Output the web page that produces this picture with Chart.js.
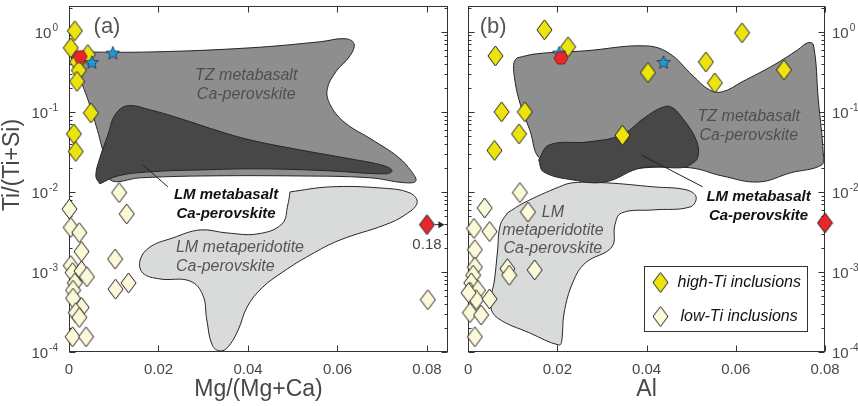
<!DOCTYPE html>
<html>
<head>
<meta charset="utf-8">
<title>Ti/(Ti+Si) of Ca-perovskite inclusions</title>
<script src="https://cdn.jsdelivr.net/npm/chart.js@4.4.1/dist/chart.umd.min.js"></script>
<style>
  html, body { margin: 0; padding: 0; background: #fff; }
  #page { position: relative; width: 858px; height: 406px; overflow: hidden; }
  #chartA { position: absolute; left: 0; top: 0; }
  #chartB { position: absolute; left: 455px; top: 0; }
</style>
</head>
<body>
<div id="page">
  <canvas id="chartA" width="455" height="406"></canvas>
  <canvas id="chartB" width="403" height="406"></canvas>
</div>
<script>
// ---- values ----
const xTicks = [0, 0.02, 0.04, 0.06, 0.08];
const yDecades = [-4, -3, -2, -1, 0];

// (a) Mg/(Mg+Ca)
const aHighX = [0.0013, 0.0004, 0.0042, 0.0018, 0.0022, 0.0018, 0.0049, 0.0011, 0.0015];
const aHighY = [1.03, 0.63, 0.52, 0.42, 0.33, 0.24, 0.097, 0.053, 0.032];
const aLowX = [0.0112, 0.0129, 0.0001, 0.0004, 0.0023, 0.0028, 0.0004, 0.0008, 0.0028, 0.0040, 0.0013,
               0.0103, 0.0133, 0.0104, 0.0009, 0.0009, 0.0028, 0.0015, 0.0023, 0.0008, 0.0038, 0.0802];
const aLowY = [0.0098, 0.0053, 0.0061, 0.0036, 0.0031, 0.0018, 0.0012, 0.00098, 0.00103, 0.00087, 0.00073,
               0.00145, 0.00073, 0.00061, 0.00059, 0.00047, 0.00036, 0.00031, 0.00027, 0.000155, 0.000155, 0.00045];
const aStarX = [0.0051, 0.0098];
const aStarY = [0.42, 0.55];
const aHexX = [0.0025];
const aHexY = [0.49];
const aRedX = [0.08];   // off-scale, true value 0.18
const aRedY = [0.0039];

// (a) fields
const aTzX = [0.0007, 0.0181, 0.0404, 0.0561, 0.0617, 0.0637, 0.0628, 0.0597, 0.0577, 0.0585, 0.0617, 0.0677, 0.0735,
              0.0766, 0.0775, 0.0751, 0.0673, 0.0516, 0.0293, 0.0159, 0.0092, 0.0078, 0.0058, 0.0034, 0.0007, 0.0007];
const aTzY = [0.56, 0.56, 0.63, 0.75, 0.82, 0.71, 0.50, 0.32, 0.19, 0.119, 0.073, 0.045, 0.0274,
              0.0178, 0.0137, 0.0130, 0.0150, 0.0158, 0.0158, 0.015, 0.0141, 0.029, 0.075, 0.19, 0.42, 0.56];
const aLmX = [0.0069, 0.0060, 0.0069, 0.0087, 0.0103, 0.0130, 0.0181, 0.0259, 0.0326, 0.0404, 0.0516,
              0.0628, 0.0706, 0.0722, 0.0706, 0.0583, 0.0427, 0.0293, 0.0181, 0.0109, 0.0069];
const aLmY = [0.0126, 0.0158, 0.0266, 0.0516, 0.0917, 0.119, 0.106, 0.079, 0.0596, 0.0447, 0.0335,
              0.0259, 0.0211, 0.0183, 0.0168, 0.0183, 0.0194, 0.0188, 0.0178, 0.0158, 0.0126];
const aPerX = [0.0494, 0.0583, 0.0695, 0.0762, 0.0778, 0.0751, 0.0706, 0.0606, 0.0539, 0.0478, 0.0431, 0.0398, 0.0378,
               0.0355, 0.0337, 0.0320, 0.0308, 0.0299, 0.0270, 0.0203, 0.0165, 0.0159, 0.0181, 0.0232, 0.0293,
               0.0353, 0.0422, 0.0476, 0.0489, 0.0494];
const aPerY = [0.0100, 0.01155, 0.0112, 0.0097, 0.0073, 0.00516, 0.00387, 0.00251, 0.00163, 0.0010, 0.00063, 0.000365, 0.000188,
               0.000115, 0.000103, 0.000122, 0.000251, 0.000516, 0.000772, 0.000818, 0.00097, 0.00141, 0.00205, 0.00266, 0.00335,
               0.00307, 0.00299, 0.00398, 0.00688, 0.0100];

// (b) Al
const bHighX = [0.0171, 0.0061, 0.0224, 0.0403, 0.0075, 0.0127, 0.0114, 0.0059, 0.0346, 0.0533, 0.0553, 0.0614, 0.0708];
const bHighY = [1.06, 0.50, 0.65, 0.31, 0.10, 0.10, 0.053, 0.033, 0.051, 0.42, 0.23, 0.97, 0.335];
const bLowX = [0.0116, 0.0037, 0.0134, 0.0013, 0.0048, 0.0015, 0.0015, 0.0088, 0.0092, 0.0149,
               0.0011, 0.0007, 0.0004, 0.0022, 0.0018, 0.0048, 0.0004, 0.0029, 0.0015, 0.0001];
const bLowY = [0.0098, 0.0063, 0.0056, 0.0035, 0.0032, 0.0019, 0.00115, 0.0011, 0.00091, 0.00106,
               0.00091, 0.00073, 0.00056, 0.00059, 0.00045, 0.00046, 0.00031, 0.00029, 0.000155, 0.00055];
const bStarX = [0.0204, 0.0438];
const bStarY = [0.55, 0.42];
const bHexX = [0.0208];
const bHexY = [0.47];
const bRedX = [0.08];
const bRedY = [0.0041];

// (b) fields
const bTzX = [0.0110, 0.0153, 0.0263, 0.0395, 0.0449, 0.0504, 0.0541, 0.0570, 0.0614, 0.0686, 0.0739, 0.0761, 0.0774, 0.0785,
              0.0796, 0.0793, 0.0723, 0.0651, 0.0570, 0.0498, 0.0395, 0.0263, 0.0164, 0.0138, 0.0114, 0.0103, 0.0103, 0.0110];
const bTzY = [0.473, 0.531, 0.579, 0.668, 0.546, 0.282, 0.188, 0.178, 0.237, 0.387, 0.596, 0.729, 0.688, 0.141,
              0.0307, 0.0218, 0.0173, 0.0133, 0.0158, 0.020, 0.020, 0.0163, 0.0251, 0.0596, 0.141, 0.29, 0.42, 0.473];
const bLmX = [0.0158, 0.0182, 0.0270, 0.0344, 0.0395, 0.0432, 0.0454, 0.0478, 0.0511, 0.0515,
              0.0498, 0.0476, 0.0416, 0.0379, 0.0307, 0.0235, 0.0169, 0.0158];
const bLmY = [0.0251, 0.0387, 0.0422, 0.0516, 0.0841, 0.112, 0.1155, 0.0866, 0.0447, 0.0274,
              0.0218, 0.020, 0.0205, 0.0194, 0.0133, 0.0141, 0.0178, 0.0251];
const bPerX = [0.0088, 0.0125, 0.0204, 0.0235, 0.0307, 0.0416, 0.0489, 0.0511, 0.0498, 0.0416, 0.0344, 0.0329, 0.0322,
               0.0263, 0.0235, 0.0215, 0.0210, 0.0204, 0.0138, 0.0066, 0.0050, 0.0059, 0.0066, 0.0072, 0.0088];
const bPerY = [0.00546, 0.0073, 0.01155, 0.013, 0.013, 0.01155, 0.0106, 0.00866, 0.0065, 0.00596, 0.00546, 0.00387, 0.00205,
               0.0013, 0.00075, 0.000307, 0.000141, 0.000122, 0.000173, 0.000266, 0.000387, 0.000794, 0.00188, 0.00387, 0.00546];

// ---- styling ----
const FONT = '"Liberation Sans", Arial, Helvetica, sans-serif';
const TEXT = '#474747';
const AXIS = '#333333';
const YELLOW = '#ece40e';
const PALE = '#fbf9d8';
const RED = '#e8262b';
const BLUE = '#2299d6';

const pts = (xs, ys) => xs.map((x, i) => ({ x: x, y: ys[i] }));

function makeDiamond(fill) {
  const c = document.createElement('canvas');
  c.width = 17; c.height = 22;
  const g = c.getContext('2d');
  g.beginPath();
  g.moveTo(8.5, 1); g.lineTo(16, 11); g.lineTo(8.5, 21); g.lineTo(1, 11);
  g.closePath();
  g.fillStyle = fill; g.fill();
  g.lineWidth = 1; g.strokeStyle = '#1e1e1e'; g.stroke();
  return c;
}

function makeStar(fill, r) {
  const s = Math.ceil(r * 2 + 4);
  const c = document.createElement('canvas');
  c.width = s; c.height = s;
  const g = c.getContext('2d');
  g.beginPath();
  for (let i = 0; i < 10; i++) {
    const a = -Math.PI / 2 + i * Math.PI / 5;
    const rr = i % 2 ? r * 0.45 : r;
    g.lineTo(s / 2 + rr * Math.cos(a), s / 2 + 0.8 + rr * Math.sin(a));
  }
  g.closePath();
  g.fillStyle = fill; g.fill();
  g.lineWidth = 0.8; g.strokeStyle = '#1b3550'; g.stroke();
  return c;
}

function makeHex(fill) {
  const c = document.createElement('canvas');
  c.width = 16; c.height = 14;
  const g = c.getContext('2d');
  g.beginPath();
  g.moveTo(1, 7); g.lineTo(4.5, 1); g.lineTo(11.5, 1); g.lineTo(15, 7); g.lineTo(11.5, 13); g.lineTo(4.5, 13);
  g.closePath();
  g.fillStyle = fill; g.fill();
  g.lineWidth = 0.8; g.strokeStyle = '#7a1518'; g.stroke();
  return c;
}

const highImg = makeDiamond(YELLOW);
const lowImg = makeDiamond(PALE);
const redImg = makeDiamond(RED);
const starImg = makeStar(BLUE, 7);
const hexImg = makeHex(RED);

function field(xs, ys, color, order) {
  return {
    type: 'line',
    data: pts(xs, ys),
    showLine: true,
    fill: 'shape',
    backgroundColor: color,
    borderColor: '#262626',
    borderWidth: 1,
    pointRadius: 0,
    tension: 0.4,
    order: order
  };
}

function markers(xs, ys, img, order) {
  return {
    type: 'scatter',
    data: pts(xs, ys),
    pointStyle: img,
    pointRadius: 9,
    clip: false,
    order: order
  };
}

function px(chart, x, y) {
  return [chart.scales.x.getPixelForValue(x), chart.scales.y.getPixelForValue(y)];
}

function textAt(chart, str, x, y, font, color, align) {
  const ctx = chart.ctx;
  const p = px(chart, x, y);
  ctx.font = font;
  ctx.fillStyle = color;
  ctx.textAlign = align || 'center';
  ctx.textBaseline = 'middle';
  ctx.fillText(str, p[0], p[1]);
}

function lineAt(chart, x1, y1, x2, y2) {
  const ctx = chart.ctx;
  const p1 = px(chart, x1, y1), p2 = px(chart, x2, y2);
  ctx.strokeStyle = '#222'; ctx.lineWidth = 1;
  ctx.beginPath(); ctx.moveTo(p1[0], p1[1]); ctx.lineTo(p2[0], p2[1]); ctx.stroke();
}

function drawPow(ctx, e, x, y, side) {
  const base = '10', sup = String(e);
  ctx.font = '15px ' + FONT;
  const wb = ctx.measureText(base).width;
  ctx.font = '10px ' + FONT;
  const ws = ctx.measureText(sup).width;
  const x0 = side === 'left' ? x - wb - ws - 1 : x;
  ctx.fillStyle = TEXT;
  ctx.textAlign = 'left';
  ctx.textBaseline = 'middle';
  ctx.font = '15px ' + FONT;
  ctx.fillText(base, x0, y + 2);
  ctx.font = '10px ' + FONT;
  ctx.fillText(sup, x0 + wb + 1, y - 4);
}

// box, inward ticks and decade labels, drawn under the data
const framePlugin = {
  id: 'frame',
  beforeDatasetsDraw(chart, args, opts) {
    const { ctx, chartArea: a, scales: { x, y } } = chart;
    ctx.save();
    const L = Math.round(a.left) + 0.5, R = Math.round(a.right) - 0.5;
    const T = Math.round(a.top) + 0.5, B = Math.round(a.bottom) - 0.5;
    ctx.strokeStyle = AXIS;
    ctx.lineWidth = 1;
    ctx.strokeRect(L, T, R - L, B - T);
    ctx.beginPath();
    xTicks.forEach(v => {
      const xp = Math.round(x.getPixelForValue(v)) + 0.5;
      ctx.moveTo(xp, B); ctx.lineTo(xp, B - 6);
      ctx.moveTo(xp, T); ctx.lineTo(xp, T + 6);
    });
    yDecades.forEach(e => {
      for (let k = 1; k <= 9; k++) {
        const v = k * Math.pow(10, e);
        if (v > y.max) break;
        const yp = Math.round(y.getPixelForValue(v)) + 0.5;
        const len = k === 1 ? 6 : 3;
        ctx.moveTo(L, yp); ctx.lineTo(L + len, yp);
        ctx.moveTo(R, yp); ctx.lineTo(R - len, yp);
      }
    });
    ctx.stroke();
    yDecades.forEach(e => {
      const yp = y.getPixelForValue(Math.pow(10, e));
      if (opts.side === 'left') drawPow(ctx, e, a.left - 11, yp, 'left');
      else drawPow(ctx, e, a.right + 7, yp, 'right');
    });
    ctx.fillStyle = '#555';
    ctx.font = '22px ' + FONT;
    ctx.textAlign = 'center';
    ctx.textBaseline = 'middle';
    ctx.fillText(opts.panel, a.left + opts.panelDx, a.top + 21);
    ctx.restore();
  }
};

function baseOptions(cfg) {
  return {
    responsive: false,
    animation: false,
    events: [],
    layout: { autoPadding: false, padding: cfg.padding },
    plugins: {
      legend: { display: false },
      tooltip: { enabled: false },
      frame: { side: cfg.yPos, panel: cfg.panel, panelDx: cfg.panelDx }
    },
    scales: {
      x: {
        type: 'linear',
        min: 0,
        max: cfg.xMax,
        grid: { display: false, drawTicks: false },
        border: { display: false },
        afterBuildTicks: s => { s.ticks = xTicks.map(v => ({ value: v })); },
        afterFit: s => { s.height = 54; },
        ticks: {
          font: { family: FONT, size: 15 },
          color: TEXT,
          padding: 9,
          maxRotation: 0,
          callback: v => (v === 0 ? '0' : v.toFixed(2))
        },
        title: {
          display: true,
          text: cfg.xTitle,
          font: { family: FONT, size: 23 },
          color: TEXT,
          padding: { top: 0, bottom: 3 }
        }
      },
      y: {
        type: 'logarithmic',
        position: cfg.yPos,
        min: 1e-4,
        max: 2.1,
        grid: { display: false, drawTicks: false },
        border: { display: false },
        ticks: { display: false },
        afterBuildTicks: s => { s.ticks = yDecades.map(e => ({ value: Math.pow(10, e) })); },
        afterFit: s => { s.width = cfg.yWidth; }
      }
    }
  };
}

// ---- panel (a) ----
const notesA = {
  id: 'notesA',
  afterDatasetsDraw(chart) {
    const ctx = chart.ctx;
    ctx.save();
    const it = 'italic 16px ' + FONT, bi = 'italic bold 15px ' + FONT;
    textAt(chart, 'TZ metabasalt', 0.0396, 0.282, it, '#4f4f4f');
    textAt(chart, 'Ca-perovskite', 0.0396, 0.163, it, '#4f4f4f');
    lineAt(chart, 0.0165, 0.0218, 0.0221, 0.01155);
    textAt(chart, 'LM metabasalt', 0.0351, 0.00917, bi, '#111');
    textAt(chart, 'Ca-perovskite', 0.0351, 0.0053, bi, '#111');
    textAt(chart, 'LM metaperidotite', 0.0239, 0.0020, it, '#555', 'left');
    textAt(chart, 'Ca-perovskite', 0.0239, 0.00116, it, '#555', 'left');
    textAt(chart, '0.18', 0.08, 0.00215, '15px ' + FONT, TEXT);
    // off-scale arrow
    const p = px(chart, aRedX[0], aRedY[0]);
    const x1 = p[0] + 8, x2 = chart.scales.x.getPixelForValue(0.0839);
    ctx.strokeStyle = '#222'; ctx.fillStyle = '#222'; ctx.lineWidth = 1;
    ctx.beginPath(); ctx.moveTo(x1, p[1]); ctx.lineTo(x2 - 3, p[1]); ctx.stroke();
    ctx.beginPath(); ctx.moveTo(x2, p[1]); ctx.lineTo(x2 - 6, p[1] - 3.5); ctx.lineTo(x2 - 6, p[1] + 3.5); ctx.closePath(); ctx.fill();
    // y axis title
    ctx.translate(13, 165);
    ctx.rotate(-Math.PI / 2);
    ctx.font = '23px ' + FONT;
    ctx.fillStyle = TEXT;
    ctx.textAlign = 'center';
    ctx.textBaseline = 'middle';
    ctx.fillText('Ti/(Ti+Si)', 0, 0);
    ctx.restore();
  }
};

new Chart(document.getElementById('chartA'), {
  type: 'scatter',
  data: {
    datasets: [
      field(aPerX, aPerY, '#d9dbda', 12),
      field(aTzX, aTzY, '#8e8e8e', 11),
      field(aLmX, aLmY, '#474747', 10),
      markers(aLowX, aLowY, lowImg, 6),
      markers(aHighX, aHighY, highImg, 5),
      markers(aStarX, aStarY, starImg, 4),
      markers(aHexX, aHexY, hexImg, 3),
      markers(aRedX, aRedY, redImg, 2)
    ]
  },
  options: baseOptions({
    padding: { top: 6, right: 7, left: 0, bottom: 0 },
    xMax: 0.0847,
    xTitle: 'Mg/(Mg+Ca)',
    yPos: 'left',
    yWidth: 69,
    panel: '(a)',
    panelDx: 38
  }),
  plugins: [framePlugin, notesA]
});

// ---- panel (b) ----
const notesB = {
  id: 'notesB',
  afterDatasetsDraw(chart) {
    const ctx = chart.ctx;
    const a = chart.chartArea;
    ctx.save();
    const it = 'italic 16px ' + FONT, bi = 'italic bold 15px ' + FONT;
    textAt(chart, 'TZ metabasalt', 0.0629, 0.0866, it, '#4f4f4f');
    textAt(chart, 'Ca-perovskite', 0.0629, 0.050, it, '#4f4f4f');
    lineAt(chart, 0.0388, 0.029, 0.0526, 0.01155);
    textAt(chart, 'LM metabasalt', 0.0651, 0.00866, bi, '#111');
    textAt(chart, 'Ca-perovskite', 0.0651, 0.0050, bi, '#111');
    textAt(chart, 'LM', 0.019, 0.0056, it, '#555');
    textAt(chart, 'metaperidotite', 0.019, 0.00325, it, '#555');
    textAt(chart, 'Ca-perovskite', 0.019, 0.00194, it, '#555');
    // legend box
    const w = 163, h = 65;
    const lx = Math.round(a.right - 18 - w) + 0.5, ly = Math.round(a.bottom - 21 - h) + 0.5;
    ctx.fillStyle = '#fff';
    ctx.fillRect(lx, ly, w, h);
    ctx.strokeStyle = AXIS; ctx.lineWidth = 1;
    ctx.strokeRect(lx, ly, w, h);
    ctx.drawImage(highImg, lx + 16 - 8.5, ly + 16 - 11);
    ctx.drawImage(lowImg, lx + 16 - 8.5, ly + 50 - 11);
    ctx.font = 'italic 16px ' + FONT;
    ctx.fillStyle = '#111';
    ctx.textAlign = 'left';
    ctx.textBaseline = 'middle';
    ctx.fillText('high-Ti inclusions', lx + 33, ly + 16);
    ctx.fillText('low-Ti inclusions', lx + 36, ly + 50);
    ctx.restore();
  }
};

new Chart(document.getElementById('chartB'), {
  type: 'scatter',
  data: {
    datasets: [
      field(bPerX, bPerY, '#d9dbda', 12),
      field(bTzX, bTzY, '#8e8e8e', 11),
      field(bLmX, bLmY, '#474747', 10),
      markers(bLowX, bLowY, lowImg, 6),
      markers(bHighX, bHighY, highImg, 5),
      markers(bStarX, bStarY, starImg, 4),
      markers(bHexX, bHexY, hexImg, 3),
      markers(bRedX, bRedY, redImg, 2)
    ]
  },
  options: baseOptions({
    padding: { top: 6, right: 0, left: 5, bottom: 0 },
    xMax: 0.08,
    xTitle: 'Al',
    yPos: 'right',
    yWidth: 33,
    panel: '(b)',
    panelDx: 25
  }),
  plugins: [framePlugin, notesB]
});
</script>
</body>
</html>
